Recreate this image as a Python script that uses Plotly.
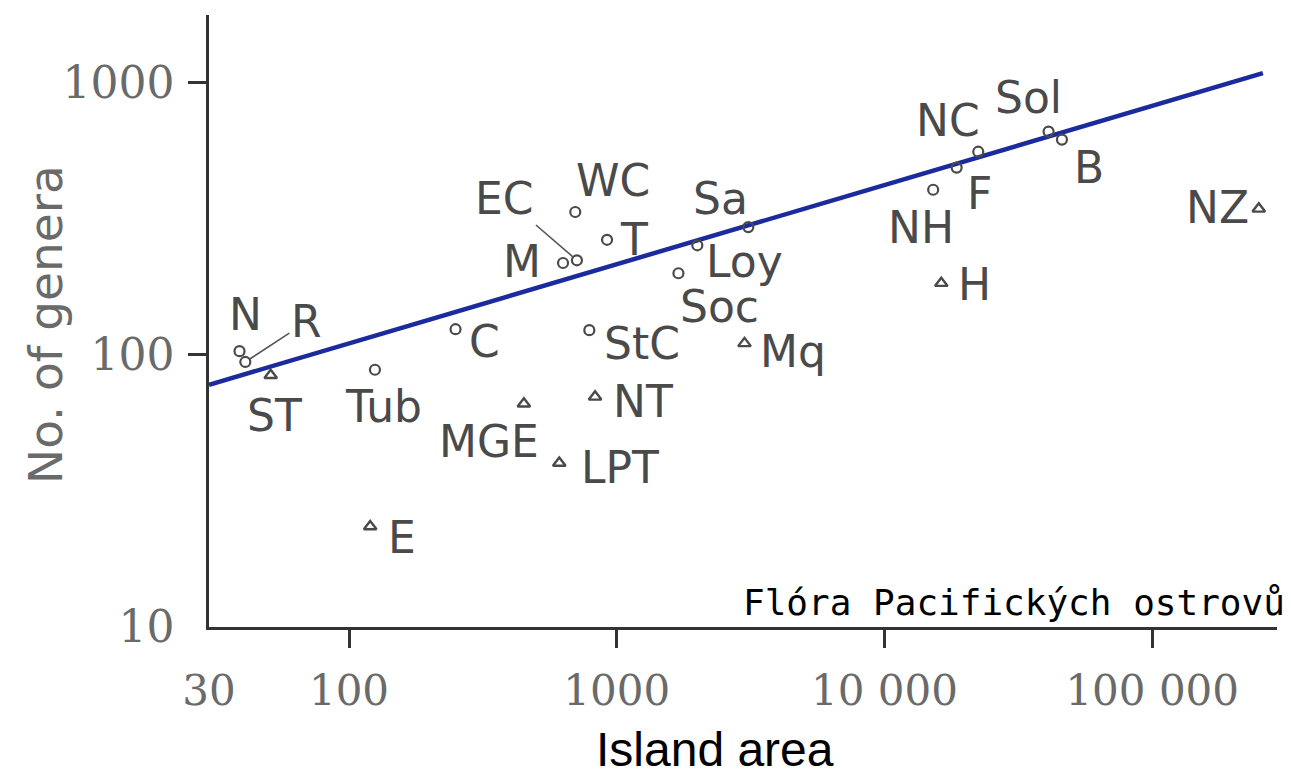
import numpy as np
import plotly.graph_objects as go

# ---- data ----
circle_names = ["N", "R", "Tub", "C", "StC", "WC", "T", "M", "EC", "Sa", "Loy", "Soc",
                "NH", "F", "NC", "Sol", "B"]
circle_area = [39, 41, 125, 250, 790, 700, 920, 630, 710, 3100, 2000, 1700,
               15200, 18600, 22400, 41000, 46000]
circle_genera = [103, 94, 88, 124, 123, 334, 264, 217, 222, 294, 252, 199,
                 403, 486, 556, 659, 616]

triangle_names = ["ST", "E", "MGE", "NT", "LPT", "Mq", "H", "NZ"]
triangle_area = [51, 120, 450, 830, 610, 3000, 16300, 250000]
triangle_genera = [84, 23.4, 66, 70, 40, 110, 183, 343]

fit_area = [30, 259000]
fit_genera = [77.5, 1080]

x_tickvals = [30, 100, 1000, 10000, 100000]
x_ticktext = ["30", "100", "1000", "10 000", "100 000"]
y_tickvals = [10, 100, 1000]
y_ticktext = ["10", "100", "1000"]

# ---- label placement (pixel offsets from the marker: dx right, dy down) ----
label_offsets = {
    "N": (6, -37), "R": (61, -40), "Tub": (9, 37), "C": (29, 12), "StC": (53, 13),
    "WC": (38, -31), "T": (27, 0), "M": (-41, -2), "EC": (-72, -62), "Sa": (-28, -29),
    "Loy": (47, 16), "Soc": (41, 33), "NH": (-12, 38), "F": (23, 26), "NC": (-30, -31),
    "Sol": (-20, -34), "B": (27, 28), "ST": (4, 40), "E": (32, 11), "MGE": (-35, 38),
    "NT": (48, 5), "LPT": (61, 4), "Mq": (49, 8), "H": (33, 1), "NZ": (-41, -1),
}
leader_labels = {"R", "EC"}

MARK = "#4a4a4a"
LABEL_FONT = dict(family="DejaVu Sans", size=44, color="#4a4a4a")

# figure geometry (page has an 8px body offset)
W, H = 1283, 767
L, R, T, B = 201, 14, 7, 148
PW, PH = W - L - R, H - T - B


def px(xp):
    return (xp - 8 - L) / PW


def py(yp):
    return (H - B - (yp - 8)) / PH


fig = go.Figure()
fig.add_trace(go.Scatter(x=fit_area, y=fit_genera, mode="lines",
                         line=dict(color="#1b2b9e", width=4.5), hoverinfo="skip"))
fig.add_trace(go.Scatter(x=circle_area, y=circle_genera, mode="markers",
                         marker=dict(symbol="circle-open", size=10, color=MARK,
                                     line=dict(width=2.2, color=MARK))))
fig.add_trace(go.Scatter(x=triangle_area, y=triangle_genera, mode="markers",
                         marker=dict(symbol="triangle-up-open", size=11, color=MARK,
                                     line=dict(width=2.4, color=MARK))))

annotations = []
for names, xs, ys in [(circle_names, circle_area, circle_genera),
                      (triangle_names, triangle_area, triangle_genera)]:
    for n, xv, yv in zip(names, xs, ys):
        dx, dy = label_offsets[n]
        if n in leader_labels:
            annotations.append(dict(x=np.log10(xv), y=np.log10(yv), text=n,
                                    showarrow=True, ax=dx, ay=dy, arrowhead=0,
                                    arrowwidth=1.6, arrowcolor="#555555", standoff=5,
                                    font=LABEL_FONT))
        else:
            annotations.append(dict(x=np.log10(xv), y=np.log10(yv), text=n,
                                    showarrow=False, xshift=dx, yshift=-dy,
                                    font=LABEL_FONT))

annotations.append(dict(xref="paper", yref="paper", x=px(1287), y=py(602),
                        xanchor="right", yanchor="middle",
                        text="Flóra Pacifických ostrovů", showarrow=False,
                        font=dict(family="DejaVu Sans Mono", size=36, color="black")))
annotations.append(dict(xref="paper", yref="paper", x=px(715), y=py(749),
                        xanchor="center", yanchor="middle",
                        text="Island area", showarrow=False,
                        font=dict(family="Liberation Sans Narrow, Arial Narrow, Liberation Sans",
                                  size=48, color="black")))
annotations.append(dict(xref="paper", yref="paper", x=px(45), y=py(325),
                        xanchor="center", yanchor="middle", textangle=-90,
                        text="No. of genera", showarrow=False,
                        font=dict(family="DejaVu Sans", size=47, color="#6a6a6a")))

fig.update_layout(
    width=W, height=H,
    margin=dict(l=L, r=R, t=T, b=B),
    paper_bgcolor="white", plot_bgcolor="white",
    showlegend=False,
    annotations=annotations,
)
fig.update_xaxes(type="log", range=[np.log10(30), 5.466], showgrid=False, zeroline=False,
                 showline=True, linecolor="#333333", linewidth=2.5,
                 tickmode="array", tickvals=x_tickvals, ticktext=x_ticktext,
                 ticks="", ticklabelstandoff=25,
                 tickfont=dict(family="DejaVu Serif", size=42, color="#6a6a6a"),
                 minor=dict(tickmode="array", tickvals=x_tickvals[1:], ticks="outside",
                            ticklen=18, tickwidth=2.5, tickcolor="#333333", showgrid=False),
                 automargin=False)
fig.update_yaxes(type="log", range=[1, 3.247], showgrid=False, zeroline=False,
                 showline=True, linecolor="#333333", linewidth=2.5,
                 tickmode="array", tickvals=y_tickvals, ticktext=y_ticktext,
                 ticks="", ticklabelstandoff=23,
                 tickfont=dict(family="DejaVu Serif", size=44, color="#6a6a6a"),
                 minor=dict(tickmode="array", tickvals=y_tickvals[1:], ticks="outside",
                            ticklen=18, tickwidth=2.5, tickcolor="#333333", showgrid=False),
                 automargin=False)

fig.write_html("out.html")
